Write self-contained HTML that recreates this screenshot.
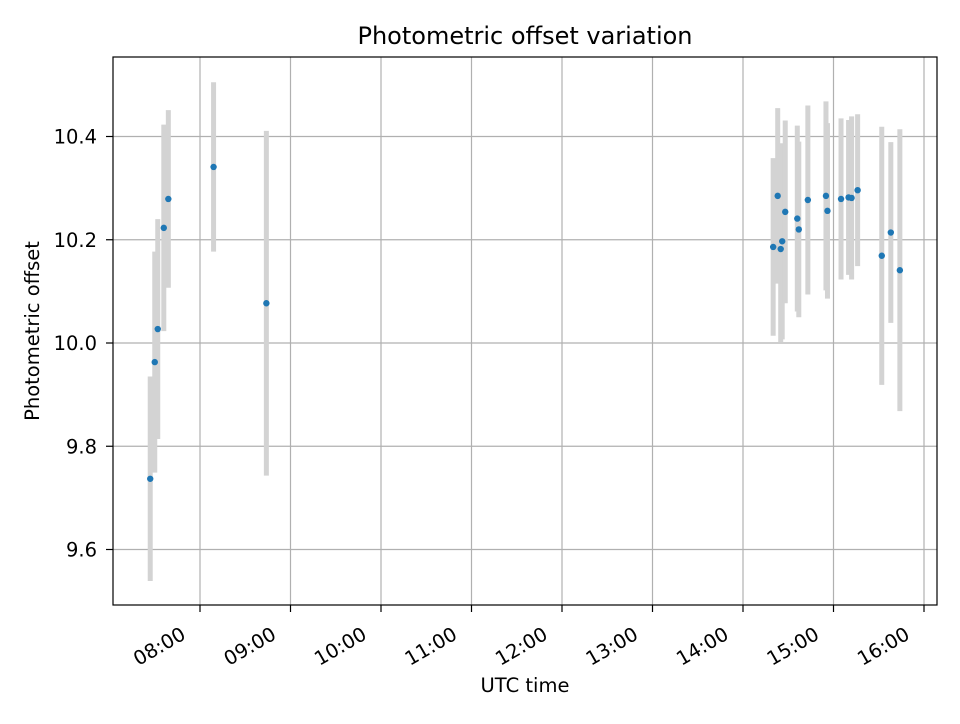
<!DOCTYPE html>
<html><head><meta charset="utf-8"><style>
body{margin:0;background:#fff;font-family:"DejaVu Sans","Liberation Sans",sans-serif}
svg text{font-family:"DejaVu Sans","Liberation Sans",sans-serif}
</style></head><body>
<svg id="chart" width="960" height="720" xmlns="http://www.w3.org/2000/svg">
<rect width="960" height="720" fill="#fff"/>
<g id="grid"></g><g id="bars"></g><g id="pts"></g><g id="ticks"></g>
<rect x="113" y="57" width="824" height="548" fill="none" stroke="#000" stroke-width="1.2"/>
<text x="525" y="44" text-anchor="middle" font-size="24">Photometric offset variation</text>
<text x="525" y="692" text-anchor="middle" font-size="19.5">UTC time</text>
<text transform="translate(39,331) rotate(-90)" text-anchor="middle" font-size="19.5">Photometric offset</text>
</svg>
<script>
const timesMin=[447,450,452,456,459,489,524,860,863,865,866,868,876,877,883,895,896,905,910,912,916,932,938,944];
const offsets=[9.737,9.963,10.027,10.223,10.279,10.341,10.077,10.186,10.285,10.182,10.197,10.254,10.241,10.22,10.277,10.285,10.256,10.279,10.282,10.281,10.296,10.169,10.214,10.141];
const errors=[0.198,0.214,0.213,0.2,0.172,0.164,0.334,0.172,0.17,0.18,0.19,0.177,0.18,0.17,0.183,0.183,0.17,0.156,0.15,0.158,0.147,0.25,0.175,0.273];
const yTicks=[9.6,9.8,10.0,10.2,10.4];
const xTickHours=[8,9,10,11,12,13,14,15,16];
const NS="http://www.w3.org/2000/svg";
const L=113,R=937,T=57,B=605;
function xs(m){return 200+(m-480)/60*90.5;}
function ys(v){return 343-(v-10.0)*516.25;}
function mk(tag,attrs,parent){const e=document.createElementNS(NS,tag);for(const k in attrs)e.setAttribute(k,attrs[k]);document.getElementById(parent).appendChild(e);return e;}
yTicks.forEach(v=>{const y=ys(v);
 let g=mk('line',{x1:L,x2:R,y1:y,y2:y,stroke:'#b0b0b0','stroke-width':1.2},'grid');
 
 mk('line',{x1:L-7,x2:L,y1:y,y2:y,stroke:'#000','stroke-width':1.2},'ticks');
 let t=mk('text',{x:97,y:y+7,'text-anchor':'end','font-size':19.5},'ticks');
 
 t.textContent=v.toFixed(1);});
xTickHours.forEach(h=>{const x=xs(h*60);
 let g=mk('line',{x1:x,x2:x,y1:T,y2:B,stroke:'#b0b0b0','stroke-width':1.2},'grid');
 
 mk('line',{x1:x,x2:x,y1:B,y2:B+7,stroke:'#000','stroke-width':1.2},'ticks');
 const ax=x-13,ay=B+33;
 let t=mk('text',{x:ax,y:ay,'text-anchor':'end','font-size':19.5,transform:`rotate(-30 ${ax} ${ay})`},'ticks');
 
 t.textContent=String(h).padStart(2,'0')+':00';});
timesMin.forEach((m,i)=>{const x=xs(m);
 let b=mk('line',{x1:x,x2:x,y1:ys(offsets[i]+errors[i]),y2:ys(offsets[i]-errors[i]),stroke:'#d3d3d3','stroke-width':5},'bars');
 });
timesMin.forEach((m,i)=>{
 let c=mk('circle',{cx:xs(m),cy:ys(offsets[i]),r:3.2,fill:'#1f77b4'},'pts');
 });
</script>
</body></html>
